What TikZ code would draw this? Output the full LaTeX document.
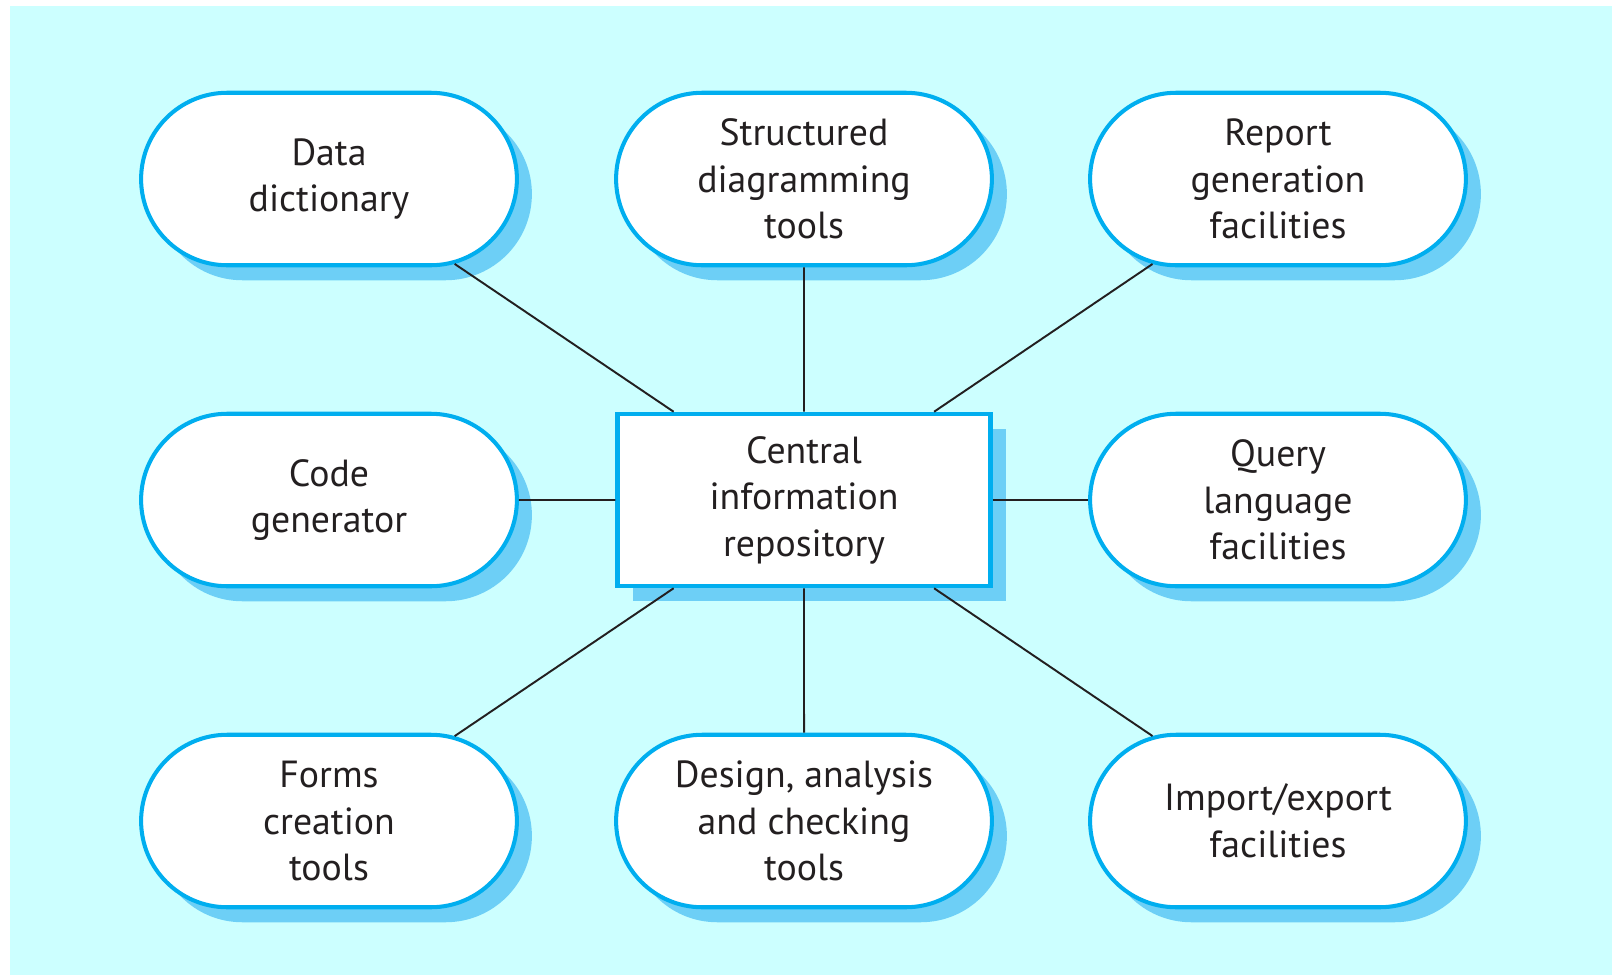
\documentclass[tikz,border=0pt]{standalone}
\usepackage{fontspec}
\setmainfont{PT Sans}
\usetikzlibrary{shapes.misc,shadows}
\definecolor{repobg}{HTML}{CCFFFF}
\definecolor{repoblue}{HTML}{00AEEF}
\definecolor{reposhadow}{HTML}{6DCFF6}
\definecolor{repoink}{HTML}{231F20}

\tikzset{
  boxshadow/.style={drop shadow={shadow xshift=3mm, shadow yshift=-3mm, fill=reposhadow, opacity=1}},
  toolbox/.style={rounded rectangle, draw=repoblue, line width=2.3pt, fill=white,
    minimum width=77.5mm, minimum height=34.5mm, align=center, text=repoink,
    font=\fontsize{21.5}{26.5}\selectfont, boxshadow},
  repobox/.style={toolbox, rectangle, minimum width=74.6mm},
  link/.style={draw=repoink, line width=1.1pt}
}

\begin{document}
\begin{tikzpicture}[x=0.2mm, y=-0.2mm]
% background panel
\useasboundingbox (0,0) rectangle (1612,978);
\fill[repobg] (10,6) rectangle (1612,975);

% repository in the middle
\node[repobox] (central) at (804,500) {Central\\information\\repository};

% tools round it
\node[toolbox] (dict)    at (329,179) {Data\\dictionary};
\node[toolbox] (diag)    at (804,179) {Structured\\diagramming\\tools};
\node[toolbox] (report)  at (1278,179) {Report\\generation\\facilities};
\node[toolbox] (codegen) at (329,500) {Code\\generator};
\node[toolbox] (query)   at (1278,500) {Query\\language\\facilities};
\node[toolbox] (forms)   at (329,821) {Forms\\creation\\tools};
\node[toolbox] (design)  at (804,821) {Design, analysis\\and checking\\tools};
\node[toolbox] (impexp)  at (1278,821) {Import/export\\facilities};

% links
\foreach \tool in {dict,diag,report,codegen,query,forms,design,impexp}
  \draw[link] (central) -- (\tool);
\end{tikzpicture}
\end{document}
